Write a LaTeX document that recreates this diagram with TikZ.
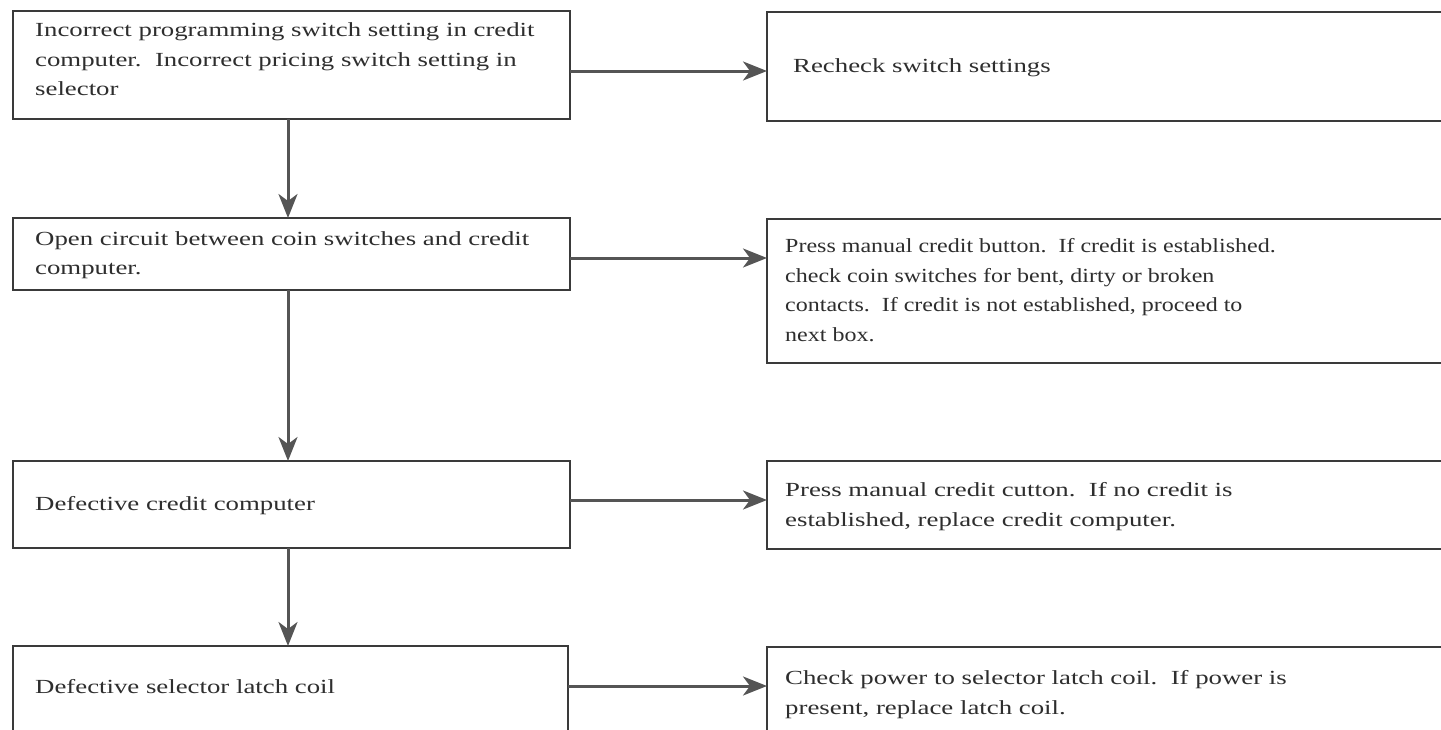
\documentclass[tikz,border=0pt]{standalone}
\usepackage{fontspec}
\setmainfont{Liberation Serif}[FakeStretch=1.34]
\newfontfamily\narrowserif{Liberation Serif}[FakeStretch=1.2]
\usetikzlibrary{arrows.meta,calc}
\definecolor{ink}{HTML}{2E2E2E}
\definecolor{linegray}{HTML}{3A3A3A}
\definecolor{arrowgray}{HTML}{555555}
\tikzset{
  box/.style={draw=linegray, line width=2.2pt, rectangle, inner sep=0pt, outer sep=0pt},
  % text blocks are placed by the baseline of their first line
  txt/.style={anchor=north west, yshift=20.65pt, align=left, inner sep=0pt, text=ink,
              font=\fontsize{20}{29.5}\selectfont, execute at begin node={\strut}},
  arr/.style={draw=arrowgray, line width=3pt,
              -{Stealth[length=24pt,width=19pt,inset=7pt]}}
}
\begin{document}
\begin{tikzpicture}[x=1pt,y=-1pt]
\useasboundingbox (0,0) rectangle (1441,729);
\clip (0,0) rectangle (1441,729);
\fill[white] (0,0) rectangle (1441,729);

% left column: causes
\node[box, minimum width=557pt, minimum height=108pt] (L1) at (291.5,65) {};
\node[box, minimum width=557pt, minimum height=72pt]  (L2) at (291.5,254) {};
\node[box, minimum width=557pt, minimum height=87pt]  (L3) at (291.5,504.5) {};
\node[box, minimum width=555pt, minimum height=94pt]  (L4) at (290.5,693) {};

% right column: remedies (running off the right edge)
\node[box, minimum width=693pt, minimum height=109pt] (R1) at (1113.5,66.5) {};
\node[box, minimum width=693pt, minimum height=144pt] (R2) at (1113.5,291) {};
\node[box, minimum width=693pt, minimum height=88pt]  (R3) at (1113.5,505) {};
\node[box, minimum width=693pt, minimum height=93pt]  (R4) at (1113.5,693.5) {};

% texts
\node[txt] (tL1) at (35,43.5) {Incorrect programming switch setting in credit\\computer.\ \ Incorrect pricing switch setting in\\selector};
\node[txt] (tL2) at (35,252) {Open circuit between coin switches and credit\\computer.};
\node[txt] (tL3) at (35,510) {Defective credit computer};
\node[txt] (tL4) at (35,693) {Defective selector latch coil};

\node[txt] (tR1) at (793,72) {Recheck switch settings};
\node[txt, font=\fontsize{20}{29.5}\narrowserif] (tR2) at (785,259) {Press manual credit button.\ \ If credit is established.\\check coin switches for bent, dirty or broken\\contacts.\ \ If credit is not established, proceed to\\next box.};
\node[txt] (tR3) at (785,503) {Press manual credit cutton.\ \ If no credit is\\established, replace credit computer.};
\node[txt] (tR4) at (785,691) {Check power to selector latch coil.\ \ If power is\\present, replace latch coil.};

% horizontal connectors
\coordinate (h1) at ($(L1.east)+(0,6)$);
\coordinate (h2) at ($(L2.east)+(0,4)$);
\coordinate (h3) at ($(L3.east)+(0,-4.5)$);
\coordinate (h4) at ($(L4.east)+(0,-7)$);
\draw[arr] (h1) -- (h1 -| R1.west);
\draw[arr] (h2) -- (h2 -| R2.west);
\draw[arr] (h3) -- (h3 -| R3.west);
\draw[arr] (h4) -- (h4 -| R4.west);

% vertical connectors
\coordinate (v1) at ($(L1.south)+(-3.5,0)$);
\coordinate (v2) at ($(L2.south)+(-3.5,0)$);
\coordinate (v3) at ($(L3.south)+(-3.5,0)$);
\draw[arr] (v1) -- (v1 |- L2.north);
\draw[arr] (v2) -- (v2 |- L3.north);
\draw[arr] (v3) -- (v3 |- L4.north);
\end{tikzpicture}
\end{document}
